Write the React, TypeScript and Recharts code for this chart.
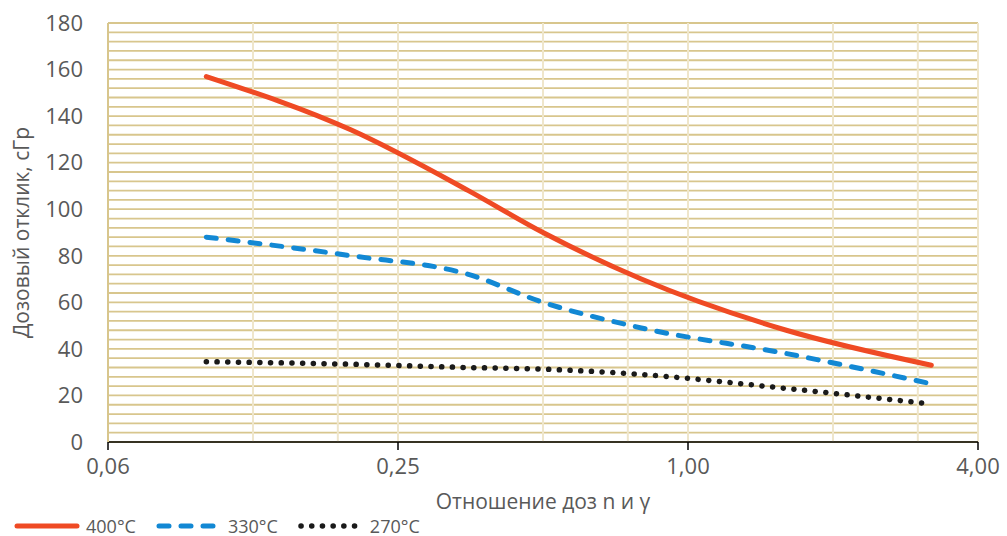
import React from 'react';
import { LineChart, Line, XAxis, YAxis, CartesianGrid, Legend } from 'recharts';

// отношение доз n/γ (log scale, base 4)
const ratios = [0.1, 0.2, 0.35, 0.5, 0.8, 1.6, 3.2];
const t400 = [157, 134, 108, 90, 70, 48, 33];
const t330 = [88, 80, 72, 60, 49, 38, 25];
const t270 = [34.5, 33.4, 32, 31.3, 29, 23, 16.3];

const xTicks = [0.0625, 0.25, 1, 4];
const yTicks = [0, 20, 40, 60, 80, 100, 120, 140, 160, 180];
const xGrid = [0.0625, 0.125, 0.1875, 0.25, 0.5, 0.75, 1, 2, 3, 4];
// horizontal grid every 4 units, split in three sets so none gets thinned out
const yGridSets = [0, 4, 8].map((s) => Array.from({ length: 16 }, (_, i) => s + i * 12).filter((v) => v <= 180));

const data = ratios.map((r, i) => ({ r, a: t400[i], b: t330[i], c: t270[i] }));

const FONT = '"Open Sans", "Segoe UI", sans-serif';
const GREY = '#595959';

const fmtX = (v: number) => (v === 0.0625 ? '0,06' : v.toFixed(2).replace('.', ','));

const series = [
  { key: 'a', name: '400°C', color: '#ef4a24', dash: undefined, width: 5 },
  { key: 'b', name: '330°C', color: '#1288d4', dash: '10 12', width: 5 },
  { key: 'c', name: '270°C', color: '#1a1a1a', dash: '0.1 10.6', width: 5.5 },
];

const LegendBox = () => (
  <div style={{ display: 'flex', alignItems: 'center', fontFamily: FONT, fontSize: 18, color: GREY }}>
    {series.map((s) => (
      <div key={s.key} style={{ display: 'flex', alignItems: 'center', marginRight: 20 }}>
        <svg width={66} height={10} style={{ marginRight: 6 }}>
          <line x1={3} y1={5} x2={63} y2={5} stroke={s.color} strokeWidth={s.width}
            strokeDasharray={s.dash} strokeLinecap="round" />
        </svg>
        <span>{s.name}</span>
      </div>
    ))}
  </div>
);

export default function App() {
  return (
    <div style={{ position: 'absolute', left: 0, top: 0, background: '#fff' }}>
      <LineChart width={1007} height={536} data={data} margin={{ top: 23, right: 29, bottom: 0, left: 0 }}>
        {yGridSets.map((vals, i) => (
          <CartesianGrid key={i} vertical={false} horizontalValues={vals} stroke="#d8c68d" strokeWidth={1.8} />
        ))}
        <CartesianGrid horizontal={false} verticalValues={xGrid} stroke="#efe6cb" strokeWidth={2} />
        <XAxis
          dataKey="r"
          type="number"
          scale="log"
          domain={[0.0625, 4]}
          allowDataOverflow
          ticks={xTicks}
          interval={0}
          tickFormatter={fmtX}
          height={94}
          tickSize={8}
          tickMargin={8}
          axisLine={{ stroke: '#000', strokeWidth: 1.5 }}
          tickLine={{ stroke: '#000', strokeWidth: 1.5 }}
          tick={{ fill: GREY, fontSize: 22, fontFamily: FONT }}
          label={{ value: 'Отношение доз n и γ', position: 'insideTop', offset: 52, fill: GREY, fontSize: 21, fontFamily: FONT }}
        />
        <YAxis
          type="number"
          domain={[0, 180]}
          ticks={yTicks}
          interval={0}
          width={108}
          tickSize={0}
          tickMargin={25}
          axisLine={{ stroke: '#d8c68d', strokeWidth: 2 }}
          tickLine={false}
          tick={{ fill: GREY, fontSize: 22, fontFamily: FONT }}
          label={{ value: 'Дозовый отклик, сГр', angle: -90, position: 'center', dx: -32, fill: GREY, fontSize: 21, fontFamily: FONT }}
        />
        <Legend
          layout="horizontal"
          verticalAlign="middle"
          align="center"
          wrapperStyle={{ top: 514, left: 14, width: 'auto' }}
          content={<LegendBox />}
        />
        {series.map((s) => (
          <Line
            key={s.key}
            type="monotone"
            dataKey={s.key}
            name={s.name}
            stroke={s.color}
            strokeWidth={s.width}
            strokeDasharray={s.dash}
            strokeLinecap="round"
            dot={false}
            activeDot={false}
            isAnimationActive={false}
          />
        ))}
      </LineChart>
    </div>
  );
}
